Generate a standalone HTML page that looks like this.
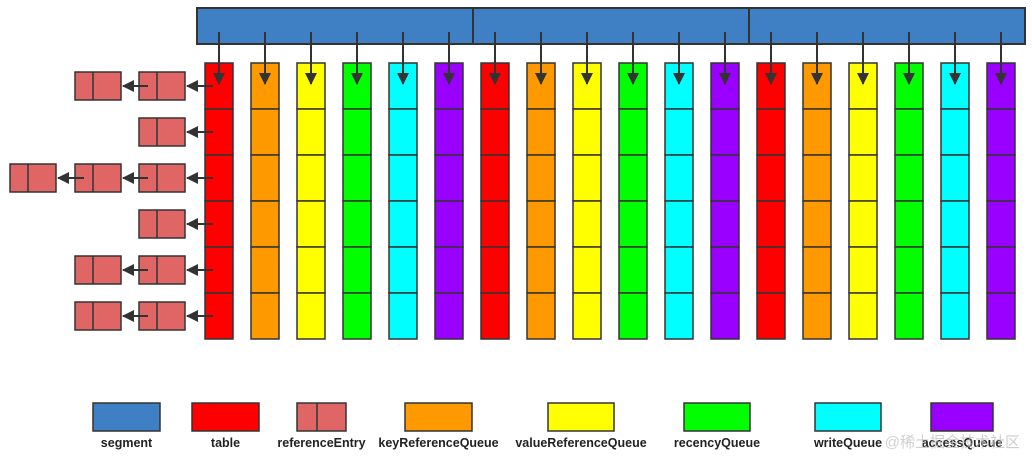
<!DOCTYPE html>
<html><head><meta charset="utf-8"><style>
body{margin:0;background:#fff;}
svg{display:block;font-family:"Liberation Sans","Noto Sans CJK SC",sans-serif;}
</style></head><body>
<svg id="s" width="1032" height="468" viewBox="0 0 1032 468">
<defs><marker id="ah" markerWidth="8" markerHeight="8" refX="7" refY="4" orient="auto" markerUnits="userSpaceOnUse"><path d="M0,0 L8,4 L0,8 z" fill="#333"/></marker>
<marker id="av" markerWidth="12" markerHeight="12" refX="11" refY="6" orient="auto" markerUnits="userSpaceOnUse"><path d="M0,0 L12,6 L0,12 z" fill="#333"/></marker></defs>
<g id="g"></g>
</svg>
<script>
const colors=["#ff0000","#ff9900","#ffff00","#00ff00","#00ffff","#9900ff"];
const colNames=["table","key-reference-queue","value-reference-queue","recency-queue","write-queue","access-queue"];
const segments=[0,1,2];
const entryRows=[2,1,3,1,2,2];
const legendLabels=["segment","table","referenceEntry","keyReferenceQueue","valueReferenceQueue","recencyQueue","writeQueue","accessQueue"];
const legendX=[93,192,297,405,548,684,815,931];
const legendW=[67,67,49,67,66,66,66,62];
const legendFill=["#3f7fc4","#ff0000","#e06666","#ff9900","#ffff00","#00ff00","#00ffff","#9900ff"];
const g=document.getElementById('g');
const NS="http://www.w3.org/2000/svg";
function mk(t,a){const e=document.createElementNS(NS,t);for(const k in a)e.setAttribute(k,a[k]);g.appendChild(e);return e;}
// segment bar
segments.forEach(i=>{
 const e=mk('rect',{x:197+i*276,y:8,width:276,height:36,fill:"#3f7fc4",stroke:"#333","stroke-width":2});
 
 
});
// columns
for(let c=0;c<18;c++){
 const x=205+c*46;
 for(let r=0;r<6;r++){
  const e=mk('rect',{x:x,y:63+r*46,width:28,height:46,fill:colors[c%6],stroke:"#333","stroke-width":1.5});
  
  
 }
 const a=mk('line',{x1:x+14,y1:32,x2:x+14,y2:84,stroke:"#333","stroke-width":2,"marker-end":"url(#av)"});
 
 
}
// reference entries
const ex=[139,75,10];
entryRows.forEach((n,r)=>{
 const cy=86+r*46;
 for(let k=0;k<n;k++){
  const x=ex[k];
  const e=mk('rect',{x:x,y:cy-14,width:46,height:28,fill:"#e06666",stroke:"#333","stroke-width":1.5});
  
  
  mk('line',{x1:x+18,y1:cy-14,x2:x+18,y2:cy+14,stroke:"#333","stroke-width":1.5});
  const fromX=k===0?213:ex[k-1]+9;
  const a=mk('line',{x1:fromX,y1:cy,x2:x+48,y2:cy,stroke:"#333","stroke-width":2,"marker-end":"url(#av)"});
  
  
 }
});
// legend
legendLabels.forEach((l,i)=>{
 const x=legendX[i],w=legendW[i];
 const e=mk('rect',{x:x,y:403,width:w,height:28,fill:legendFill[i],stroke:"#333","stroke-width":1.5});
 
 
 if(i===2)mk('line',{x1:x+20,y1:403,x2:x+20,y2:431,stroke:"#333","stroke-width":1.5});
 const t=mk('text',{x:x+w/2,y:447,"text-anchor":"middle","font-size":12.5,"font-weight":"bold",fill:"#222"});
 t.textContent=l;
 
 
});
const w=mk('text',{x:1020,y:447,"text-anchor":"end","font-size":15,fill:"#bbb","fill-opacity":0.7});
w.textContent="@稀土掘金技术社区";


</script>
</body></html>
